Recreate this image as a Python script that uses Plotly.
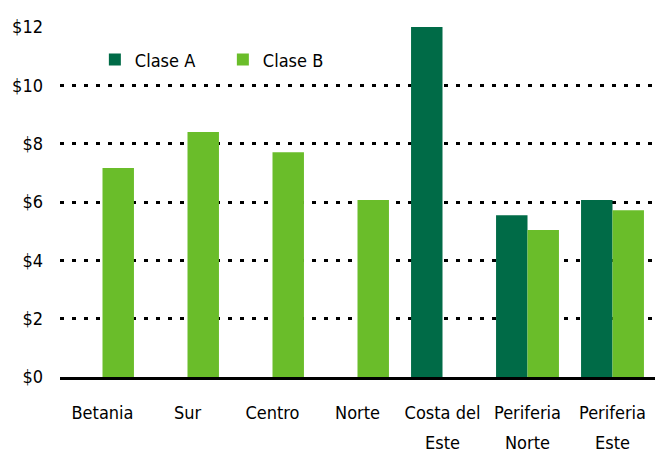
import plotly.graph_objects as go

categories = ["Betania", "Sur", "Centro", "Norte", "Costa del Este", "Periferia Norte", "Periferia Este"]
label_line1 = ["Betania", "Sur", "Centro", "Norte", "Costa del", "Periferia", "Periferia"]
label_line2 = ["", "", "", "", "Este", "Norte", "Este"]
clase_a = [None, None, None, None, 12.0, 5.55, 6.07]
clase_b = [7.17, 8.4, 7.71, 6.07, None, 5.04, 5.72]
y_ticks = [0, 2, 4, 6, 8, 10, 12]
y_tick_labels = ["$0", "$2", "$4", "$6", "$8", "$10", "$12"]

FONT = "DejaVu Sans Condensed, Liberation Sans Narrow, sans-serif"

fig = go.Figure()
fig.add_bar(x=categories, y=clase_a, name="Clase A", marker_color="#006B47", marker_line_width=0)
fig.add_bar(x=categories, y=clase_b, name="Clase B", marker_color="#6ABD2A", marker_line_width=0)

for cat, txt in zip(categories, label_line2):
    if txt:
        fig.add_annotation(x=cat, y=0, xref="x", yref="y", text=txt, showarrow=False,
                           yanchor="top", yshift=-54, borderpad=0,
                           font=dict(family=FONT, size=18, color="black"))

fig.update_layout(
    width=655, height=455,
    margin=dict(l=60, r=0, t=27, b=78, autoexpand=False),
    paper_bgcolor="white", plot_bgcolor="white",
    font=dict(family=FONT, size=18, color="black"),
    barmode="group", bargap=0.26, bargroupgap=0,
    showlegend=True,
    legend=dict(orientation="h", x=0.0586, xanchor="left", y=0.906, yanchor="middle",
                bgcolor="rgba(0,0,0,0)", font=dict(size=18),
                entrywidth=83, entrywidthmode="pixels"),
    xaxis=dict(showgrid=False, showline=True, linecolor="black", linewidth=2.5,
               tickvals=categories, ticktext=label_line1,
               ticks="", tickangle=0, ticklabelstandoff=18, tickfont=dict(size=18)),
    yaxis=dict(range=[0, 12], tickvals=y_ticks, ticktext=y_tick_labels,
               showgrid=True, gridcolor="black", gridwidth=2.5, griddash="4px,8px",
               zeroline=False, showline=False, ticks="", ticklabelstandoff=16,
               tickfont=dict(size=18)),
)

fig.write_html("out.html", config={"displayModeBar": False},
               post_script="document.body.style.margin='0px';document.body.style.overflow='hidden';")
